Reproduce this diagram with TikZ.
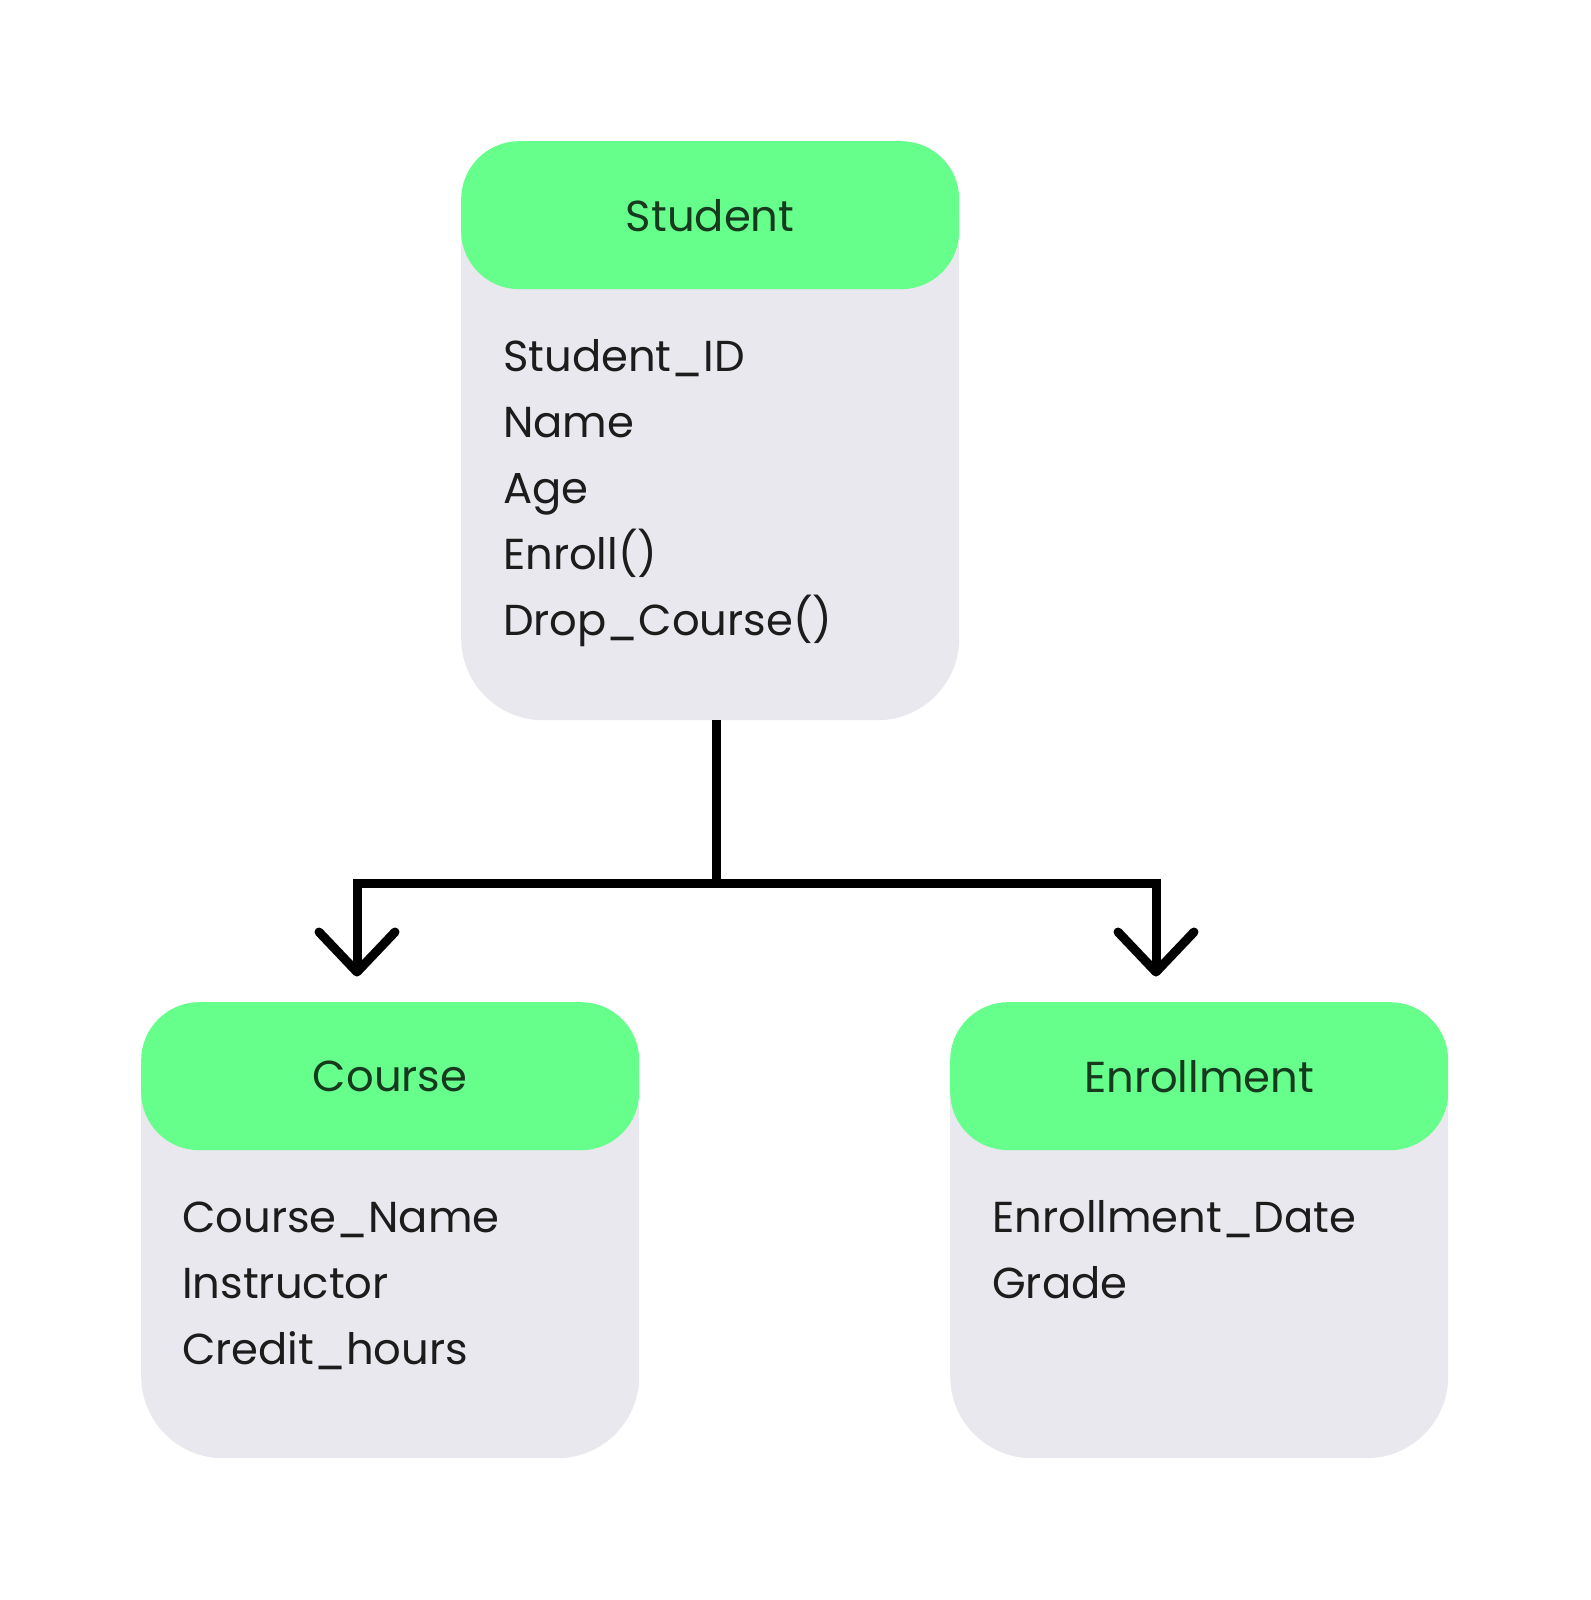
\documentclass[tikz,border=0pt]{standalone}
\usepackage{fontspec}
\setmainfont{Poppins}
\definecolor{headgreen}{HTML}{66FF8C}
\definecolor{bodygray}{HTML}{E8E8EE}
\definecolor{titlecol}{HTML}{173A1F}
\definecolor{textcol}{HTML}{1C1C1C}
\begin{document}
\begin{tikzpicture}[x=1pt,y=-1pt,
  classbody/.style={fill=bodygray, draw=none, rounded corners=82pt, minimum width=498pt, anchor=north west, inner sep=0pt},
  classhead/.style={fill=headgreen, draw=none, rounded corners=58pt, minimum width=498pt, minimum height=148pt, anchor=north west, inner sep=0pt, text=titlecol, font=\fontsize{43.3}{50}\selectfont},
  attr/.style={anchor=base west, inner sep=0pt, text=textcol, font=\fontsize{43.3}{54}\selectfont},
  conn/.style={line width=9pt, black, line join=miter},
  chev/.style={line width=9pt, black, line cap=round, line join=round}]
\useasboundingbox (0,0) rectangle (1590,1600);
\fill[white] (0,0) rectangle (1590,1600);

% Student
\node[classbody, minimum height=579pt] (studentbody) at (461,141) {};
\node[classhead] (studenthead) at (461,141) {Student};
\node[attr] (s1) at (503,371) {Student\_ID};
\node[attr] (s2) at (503,437) {Name};
\node[attr] (s3) at (503,503) {Age};
\node[attr] (s4) at (503,569) {Enroll()};
\node[attr] (s5) at (503,635) {Drop\_Course()};

% Course
\node[classbody, minimum height=456pt] (coursebody) at (141,1002) {};
\node[classhead] (coursehead) at (141,1002) {Course};
\node[attr] (c1) at (182,1232) {Course\_Name};
\node[attr] (c2) at (182,1298) {Instructor};
\node[attr] (c3) at (182,1364) {Credit\_hours};

% Enrollment
\node[classbody, minimum height=456pt] (enrollbody) at (950,1002) {};
\node[classhead] (enrollhead) at (950,1002) {Enrollment};
\node[attr] (e1) at (992,1232) {Enrollment\_Date};
\node[attr] (e2) at (992,1298) {Grade};

% connectors
\coordinate (junction) at (716,883);
\coordinate (ltip) at (357,972);
\coordinate (rtip) at (1156,972);
\draw[conn] (junction |- studentbody.south) -- (junction);
\draw[conn] (ltip) |- (junction) -| (rtip);
\draw[chev] (ltip) ++(-38,-40) -- (ltip) -- ++(38,-40);
\draw[chev] (rtip) ++(-38,-40) -- (rtip) -- ++(38,-40);
\end{tikzpicture}
\end{document}
